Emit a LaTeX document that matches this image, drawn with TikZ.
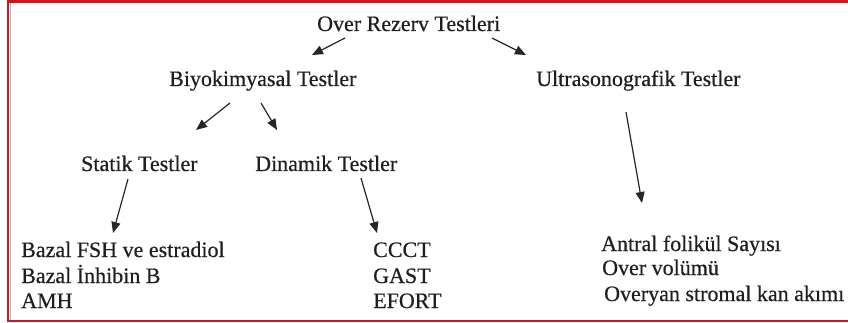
\documentclass[tikz,border=0pt]{standalone}
\usepackage{fontspec}
\setmainfont{Liberation Serif}[FakeBold=0.5]
\usetikzlibrary{arrows.meta,calc}
\definecolor{framered}{RGB}{204,22,32}
\tikzset{
  lbl/.style={anchor=base west,inner sep=0pt,font=\fontsize{22}{26}\selectfont,text=black!88},
  arr/.style={-{Triangle[length=11pt,width=9pt]},line width=1.2pt,black!85},
}
\begin{document}
\begin{tikzpicture}[x=1pt,y=-1pt]
  \useasboundingbox (0,0) rectangle (848,323);
  % red frame, open on the right
  \draw[framered,line width=2.4pt] (860,1.5) -- (8,1.5) -- (8,321) -- (860,321);
  \draw[black!30,line width=0.8pt] (10.6,3) -- (10.6,319.5);
  % test tree
  \node[lbl] (root) at (317,31) {Over Rezerv Testleri};
  \node[lbl] (biyo) at (169,86) {Biyokimyasal Testler};
  \node[lbl] (ultra) at (536,86) {Ultrasonografik Testler};
  \node[lbl] (statik) at (81,171) {Statik Testler};
  \node[lbl] (dinamik) at (255,171) {Dinamik Testler};
  \node[lbl] (fsh) at (21,257) {Bazal FSH ve estradiol};
  \node[lbl] (inhibin) at (21,283) {Bazal İnhibin B};
  \node[lbl] (amh) at (21,308) {AMH};
  \node[lbl] (ccct) at (373,257) {CCCT};
  \node[lbl] (gast) at (373,283) {GAST};
  \node[lbl] (efort) at (373,308) {EFORT};
  \node[lbl] (antral) at (601,251) {Antral folikül Sayısı};
  \node[lbl] (volum) at (602,275) {Over volümü};
  \node[lbl] (stromal) at (604,301) {Overyan stromal kan akımı};
  \draw[arr] ($(root.base west)+(28,7)$) -- ($(biyo.base west)+(143,-31)$);
  \draw[arr] ($(root.base west)+(175,7)$) -- ($(ultra.base west)+(-10,-31)$);
  \draw[arr] ($(biyo.base west)+(61,17)$) -- ($(statik.base west)+(115,-41)$);
  \draw[arr] ($(biyo.base west)+(92,17)$) -- ($(dinamik.base west)+(22,-41)$);
  \draw[arr] ($(ultra.base west)+(90,26)$) -- ($(antral.base west)+(41,-48)$);
  \draw[arr] ($(statik.base west)+(47,8)$) -- ($(fsh.base west)+(92,-24)$);
  \draw[arr] ($(dinamik.base west)+(106,7)$) -- ($(ccct.base west)+(4,-24)$);
\end{tikzpicture}
\end{document}
